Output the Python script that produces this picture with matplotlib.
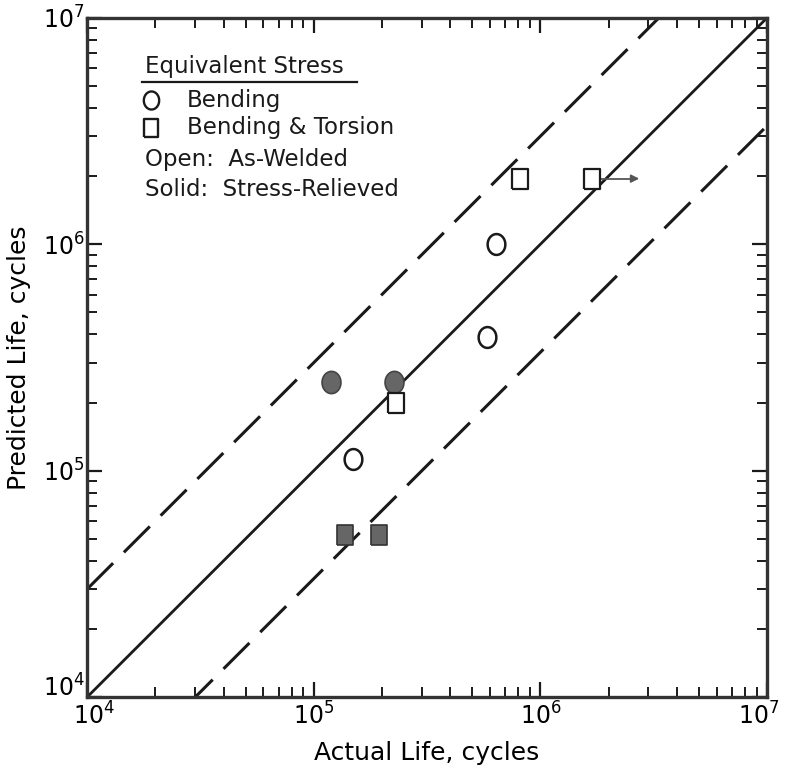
import numpy as np
import matplotlib as mpl
mpl.use('Agg')
from matplotlib import pyplot as plt
from matplotlib.lines import Line2D
from matplotlib.transforms import ScaledTranslation

# data (actual life, predicted life)
open_circle_x = [1.49e5, 5.8e5, 6.4e5]
open_circle_y = [1.13e5, 3.9e5, 1.0e6]
solid_circle_x = [1.19e5, 2.26e5]
solid_circle_y = [2.47e5, 2.47e5]
open_square_x = [2.3e5, 8.1e5, 1.69e6]
open_square_y = [2.0e5, 1.95e6, 1.95e6]
solid_square_x = [1.37e5, 1.94e5]
solid_square_y = [5.2e4, 5.2e4]
runout_x = [1.69e6, 2.6e6]   # arrow: specimen did not fail
runout_y = [1.95e6, 1.95e6]

band_factor = 3.0
life_range = [1e4, 1e7]

mpl.rcParams['font.family'] = ['DejaVu Sans']
mpl.rcParams['mathtext.fontset'] = 'dejavusans'

ink = '#1a1a1a'
fill = '#666666'
fs = 16.5

# tall-ish marker shapes like the hand-drawn ones
t = np.linspace(0, 2 * np.pi, 60)
ellipse = np.column_stack([0.85 * np.cos(t), np.sin(t)])
rect = [(-0.37, -0.5), (0.37, -0.5), (0.37, 0.5), (-0.37, 0.5), (-0.37, -0.5)]

f = plt.figure(figsize = (7.85, 7.78), dpi = 100)
ax1 = f.add_axes([0.111, 0.104, 0.866, 0.873])

ax1.set_xscale('log')
ax1.set_yscale('log')
ax1.set_xlim(life_range)
ax1.set_ylim(life_range)

######################################################################################
# 1:1 line and factor-of-3 scatter band
xs = np.array(life_range)
ax1.plot(xs, xs, color = ink, lw = 2.0, zorder = 2)
ax1.plot(xs, xs * band_factor, color = ink, lw = 2.2, dashes = (12, 5), zorder = 2)
ax1.plot(xs, xs / band_factor, color = ink, lw = 2.2, dashes = (12, 5), zorder = 2)

######################################################################################
# data points
ax1.plot(runout_x, runout_y, color = '#555555', lw = 1.3, zorder = 3)
ax1.annotate('', xy = (runout_x[1] * 1.08, runout_y[1]), xytext = (runout_x[1] * 0.95, runout_y[1]),
             arrowprops = dict(arrowstyle = '-|>', color = '#555555', lw = 1.2,
                               mutation_scale = 12))
ax1.plot(open_circle_x, open_circle_y, ls = 'none', marker = ellipse, ms = 15,
         mfc = 'white', mec = ink, mew = 1.8, zorder = 4)
ax1.plot(solid_circle_x, solid_circle_y, ls = 'none', marker = ellipse, ms = 16,
         mfc = fill, mec = '#444444', mew = 1.2, zorder = 4)
ax1.plot(open_square_x, open_square_y, ls = 'none', marker = rect, ms = 15,
         mfc = 'white', mec = ink, mew = 1.6, zorder = 4)
ax1.plot(solid_square_x, solid_square_y, ls = 'none', marker = rect, ms = 15,
         mfc = fill, mec = '#333333', mew = 1.2, zorder = 4)

######################################################################################
# axes styling
for spine in ax1.spines.values():
    spine.set_linewidth(2.4)
    spine.set_color('#333333')

ax1.tick_params(which = 'both', direction = 'in', top = True, right = True,
                color = ink)
ax1.tick_params(which = 'major', length = 11, width = 1.6, labelsize = 17)
ax1.tick_params(axis = 'x', which = 'major', pad = 4)
ax1.tick_params(axis = 'y', which = 'major', pad = 2)
ax1.tick_params(which = 'minor', length = 7, width = 1.4)
ax1.xaxis.set_minor_locator(mpl.ticker.LogLocator(base = 10, subs = np.arange(2, 10)))
ax1.yaxis.set_minor_locator(mpl.ticker.LogLocator(base = 10, subs = np.arange(2, 10)))
ax1.xaxis.set_minor_formatter(mpl.ticker.NullFormatter())
ax1.yaxis.set_minor_formatter(mpl.ticker.NullFormatter())

ax1.set_xlabel('Actual Life, cycles', fontsize = 18, labelpad = 8)
ax1.set_ylabel('Predicted Life, cycles', fontsize = 18, labelpad = 8)

######################################################################################
# hand-lettered legend
tx = 0.085
ax1.text(tx, 0.929, 'Equivalent Stress', transform = ax1.transAxes, fontsize = fs,
         va = 'center', color = ink)
ax1.add_line(Line2D([0.081, 0.397], [0.906, 0.906], transform = ax1.transAxes,
                    color = ink, lw = 1.6))
ax1.plot([0.094], [0.879], transform = ax1.transAxes, marker = ellipse, ms = 13,
         mfc = 'white', mec = ink, mew = 1.7, ls = 'none')
ax1.text(0.147, 0.879, 'Bending', transform = ax1.transAxes, fontsize = fs,
         va = 'center', color = ink)
ax1.plot([0.094], [0.838], transform = ax1.transAxes, marker = rect, ms = 13,
         mfc = 'white', mec = ink, mew = 1.7, ls = 'none')
ax1.text(0.147, 0.838, 'Bending & Torsion', transform = ax1.transAxes, fontsize = fs,
         va = 'center', color = ink)
ax1.text(tx, 0.791, 'Open:  As-Welded', transform = ax1.transAxes, fontsize = fs,
         va = 'center', color = ink)
ax1.text(tx, 0.747, 'Solid:  Stress-Relieved', transform = ax1.transAxes, fontsize = fs,
         va = 'center', color = ink)

######################################################################################
# nudge corner tick labels so they stay on the canvas and apart
f.canvas.draw()
for tick in ax1.yaxis.get_major_ticks():
    if np.isclose(tick.get_loc(), life_range[0]):
        tick.label1.set_verticalalignment('baseline')
    else:
        tick.label1.set_verticalalignment('center_baseline')
for tick in ax1.xaxis.get_major_ticks():
    if np.isclose(tick.get_loc(), life_range[1]):
        tick.label1.set_transform(tick.label1.get_transform() +
                                  ScaledTranslation(-6 / 72, 0, f.dpi_scale_trans))
    elif np.isclose(tick.get_loc(), life_range[0]):
        tick.label1.set_transform(tick.label1.get_transform() +
                                  ScaledTranslation(5 / 72, 0, f.dpi_scale_trans))

f.savefig('out.png', dpi = 100)
plt.close()
